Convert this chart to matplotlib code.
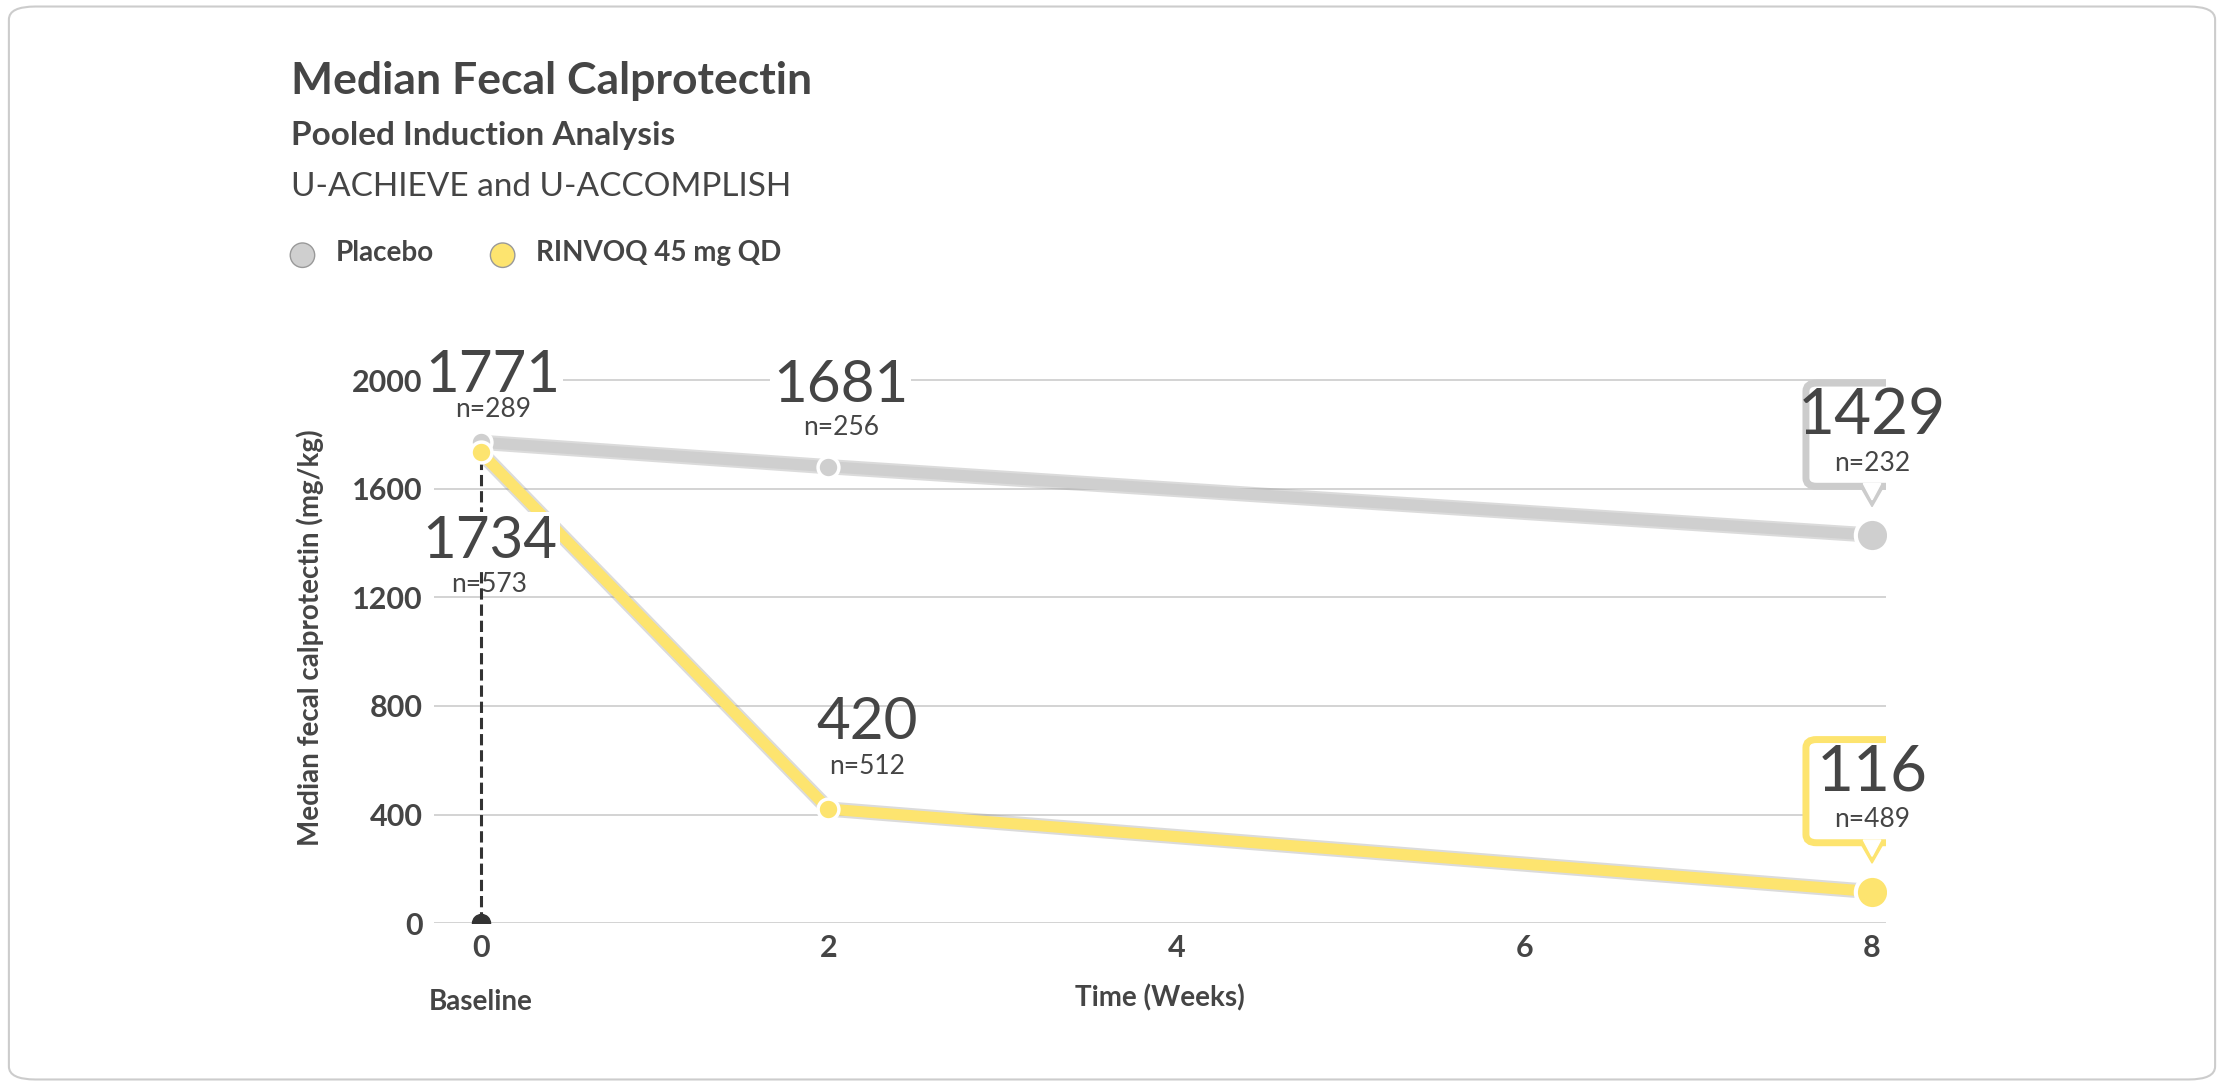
import matplotlib.pyplot as plt
from matplotlib.patches import FancyBboxPatch, Ellipse

weeks = [0, 2, 8]
placebo = [1771, 1681, 1429]
placebo_n = [289, 256, 232]
rinvoq = [1734, 420, 116]
rinvoq_n = [573, 512, 489]
yticks = [0, 400, 800, 1200, 1600, 2000]
xticks = [0, 2, 4, 6, 8]

GRAY = '#cfcfcf'
YEL = '#fde46f'
TXT = '#454545'
plt.rcParams['font.family'] = 'Lato'

fig = plt.figure(figsize=(22.24, 10.86), dpi=100)
fig.patches.append(FancyBboxPatch((0.004, 0.006), 0.992, 0.988, boxstyle='round,pad=0,rounding_size=0.012',
                                  transform=fig.transFigure, fc='white', ec='#cccccc', lw=1.5, zorder=-5))

ax = fig.add_axes([0.195, 0.150, 0.653, 0.525])
ax.patch.set_alpha(0)
ax.set_xlim(-0.27, 8.08)
ax.set_ylim(0, 2100)
for s in ax.spines.values():
    s.set_visible(False)
ax.set_yticks(yticks)
ax.set_yticklabels([str(v) for v in yticks], fontsize=22, fontweight='bold', color=TXT)
ax.set_xticks(xticks)
ax.set_xticklabels([str(v) for v in xticks], fontsize=22, fontweight='bold', color=TXT)
ax.tick_params(length=0, pad=8)
ax.grid(axis='y', color='#cccccc', lw=1.2)
ax.set_axisbelow(True)
ax.set_ylabel('Median fecal calprotectin (mg/kg)', fontsize=20, fontweight='bold', color=TXT, labelpad=20)
ax.set_xlabel('Time (Weeks)', fontsize=20, fontweight='bold', color=TXT, labelpad=16)
ax.text(0, -0.115, 'Baseline', transform=ax.get_xaxis_transform(), ha='center', va='top',
        fontsize=20, fontweight='bold', color=TXT)

# baseline dashed drop line
ax.plot([0, 0], [0, rinvoq[0]], ls='--', color='#333333', lw=2.2, zorder=3)
ax.plot(0, 0, 'o', ms=13, color='#333333', zorder=4)

for vals, col in [(placebo, GRAY), (rinvoq, YEL)]:
    ax.plot(weeks, vals, color='#999999', lw=11, alpha=0.35, zorder=4)
    ax.plot(weeks, vals, color=col, lw=8, zorder=5, solid_capstyle='round')
    ax.plot(weeks[:2], vals[:2], 'o', ms=15, mfc=col, mec='white', mew=2.5, zorder=6)
    ax.plot(weeks[2], vals[2], 'o', ms=24, mfc=col, mec='white', mew=3, zorder=6)

bg = dict(fc='white', ec='none', pad=2)
ax.text(0.07, 1771 + 150, '1771', ha='center', va='bottom', fontsize=42, color=TXT, zorder=7, bbox=bg)
ax.text(0.07, 1771 + 75, 'n=289', ha='center', va='bottom', fontsize=19, color=TXT, zorder=8)
ax.text(2.07, 1681 + 200, '1681', ha='center', va='bottom', fontsize=42, color=TXT, zorder=7, bbox=bg)
ax.text(2.07, 1681 + 100, 'n=256', ha='center', va='bottom', fontsize=19, color=TXT, zorder=8)
ax.text(0.05, 1734 - 230, '1734', ha='center', va='top', fontsize=42, color=TXT, zorder=7, bbox=bg)
ax.text(0.05, 1734 - 440, 'n=573', ha='center', va='top', fontsize=19, color=TXT, zorder=7)
ax.text(2.22, 420 + 220, '420', ha='center', va='bottom', fontsize=42, color=TXT, zorder=7)
ax.text(2.22, 420 + 110, 'n=512', ha='center', va='bottom', fontsize=19, color=TXT, zorder=7)

# callouts at week 8
for val, n, ec in [(1429, 232, '#cccccc'), (116, 489, YEL)]:
    box = FancyBboxPatch((7.62, val + 180), 0.76, 380, boxstyle='round,pad=0,rounding_size=0.06',
                         fc='white', ec=ec, lw=5, zorder=7, mutation_aspect=500)
    ax.add_patch(box)
    ax.fill([7.93, 8.07, 8.0], [val + 183, val + 183, val + 105], color=ec, zorder=7)
    ax.fill([7.95, 8.05, 8.0], [val + 190, val + 190, val + 130], color='white', zorder=8)
    ax.text(8.0, val + 440, str(val), ha='center', va='center', fontsize=46, color=TXT, zorder=9)
    ax.text(8.0, val + 265, 'n=%d' % n, ha='center', va='center', fontsize=19, color=TXT, zorder=9)

fig.text(0.131, 0.925, 'Median Fecal Calprotectin', fontsize=32, fontweight='bold', color=TXT, va='center')
fig.text(0.131, 0.875, 'Pooled Induction Analysis', fontsize=24, fontweight='bold', color=TXT, va='center')
fig.text(0.131, 0.828, 'U-ACHIEVE and U-ACCOMPLISH', fontsize=24, color=TXT, va='center')
for x, lab, col in [(0.136, 'Placebo', GRAY), (0.226, 'RINVOQ 45 mg QD', YEL)]:
    fig.patches.append(Ellipse((x, 0.765), 0.011, 0.011 * 2224 / 1086, transform=fig.transFigure,
                               fc=col, ec='#999999', lw=1))
    fig.text(x + 0.015, 0.767, lab, fontsize=20, fontweight='bold', color=TXT, va='center')

fig.savefig('out.png', dpi=100)
